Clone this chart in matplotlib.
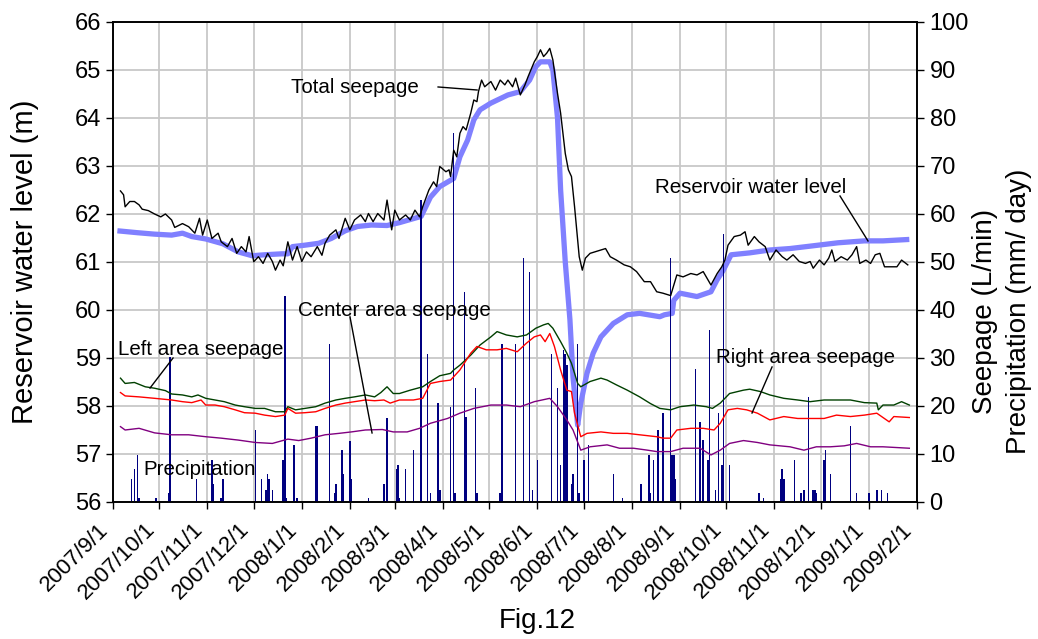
import numpy as np
import pandas as pd
import matplotlib
matplotlib.use("Agg")
import matplotlib.pyplot as plt

plt.rcParams["font.family"] = ["Liberation Sans", "DejaVu Sans"]

start = pd.Timestamp("2007-09-01")
end = pd.Timestamp("2009-02-01")

# reservoir water level (m), day offsets from 2007/9/1
wl_day = [3, 16, 27, 38, 45, 51, 60, 71, 81, 90, 98, 109, 113, 116, 124, 133, 141, 150, 158, 167,
          177, 185, 199, 205, 211, 220, 224, 229, 233, 237, 244, 255, 263, 269, 273, 276, 282, 284, 287, 289,
          292, 295, 297, 300, 302, 306, 310, 315, 323, 332, 340, 353, 356, 361, 362, 366, 377, 386, 390, 394,
          399, 411, 424, 437, 450, 468, 485, 497, 514]
wl_val = [61.65, 61.61, 61.58, 61.56, 61.60, 61.53, 61.48, 61.38, 61.21, 61.13, 61.15, 61.17, 61.17, 61.32, 61.35, 61.39, 61.49, 61.65, 61.74, 61.77,
          61.76, 61.82, 61.95, 62.35, 62.57, 62.74, 63.19, 63.54, 63.96, 64.17, 64.31, 64.48, 64.55, 64.79, 65.07, 65.17, 65.17, 65.0, 64.0, 62.5,
          61.0, 59.8, 58.6, 57.6, 58.06, 58.68, 59.1, 59.44, 59.72, 59.90, 59.93, 59.86, 59.90, 59.93, 60.2, 60.35, 60.28, 60.38, 60.63, 60.83,
          61.15, 61.19, 61.25, 61.28, 61.33, 61.40, 61.44, 61.44, 61.47]

# total seepage (L/min)
ts_day = [5, 7, 8, 11, 14, 17, 19, 23, 27, 31, 34, 38, 40, 45, 49, 53, 56, 58, 61, 64,
          68, 70, 74, 77, 80, 83, 86, 88, 91, 94, 97, 100, 103, 105, 108, 110, 113, 116, 119, 122,
          125, 128, 132, 135, 137, 140, 144, 146, 150, 153, 156, 160, 163, 165, 168, 171, 175, 177, 180, 182,
          185, 189, 192, 195, 198, 200, 204, 207, 209, 211, 215, 217, 218, 220, 222, 224, 226, 228, 231, 233,
          235, 236, 238, 240, 244, 247, 250, 253, 255, 258, 260, 263, 266, 268, 272, 274, 276, 278, 280, 282,
          284, 287, 289, 290, 292, 294, 296, 298, 301, 303, 305, 308, 311, 315, 318, 321, 325, 330, 334, 338,
          343, 347, 351, 355, 360, 364, 368, 373, 377, 381, 386, 390, 393, 395, 397, 401, 405, 408, 410, 414,
          417, 421, 424, 428, 432, 435, 439, 443, 447, 450, 452, 456, 459, 462, 464, 466, 470, 474, 477, 480,
          482, 486, 489, 492, 495, 498, 501, 506, 509, 513]
ts_val = [64.8, 64.0, 61.5, 62.6, 62.6, 61.9, 61.0, 60.7, 60.0, 59.4, 60.0, 58.75, 57.2, 58.0, 57.35, 56.0, 59.1, 55.6, 58.75, 54.9,
          56.0, 54.2, 53.2, 54.9, 51.8, 53.2, 52.1, 55.3, 50.05, 51.1, 49.7, 51.8, 50.1, 48.3, 50.4, 49.2, 54.2, 50.4, 53.2, 50.1,
          52.1, 51.1, 53.2, 51.4, 53.9, 55.6, 56.7, 54.9, 59.1, 56.7, 58.75, 59.8, 58.4, 60.1, 58.4, 60.1, 58.75, 62.9, 56.7, 60.8,
          58.75, 59.8, 58.75, 60.8, 59.4, 61.5, 65.0, 66.7, 65.7, 69.9, 68.8, 69.2, 67.8, 73.3, 71.9, 76.8, 78.2, 77.5, 81.0, 83.75,
          83.4, 85.5, 87.9, 86.5, 87.6, 85.8, 87.9, 86.9, 87.9, 86.5, 88.3, 84.8, 86.9, 88.6, 91.7, 92.8, 94.2, 92.8, 93.5, 94.5,
          92.1, 85.1, 81.0, 78.2, 72.6, 69.2, 67.8, 61.5, 51.1, 48.3, 50.8, 51.8, 52.1, 52.5, 52.8, 51.1, 50.4, 49.4, 49.0, 48.0,
          45.9, 45.9, 43.8, 43.5, 43.0, 47.3, 46.9, 47.6, 47.3, 48.0, 45.2, 47.6, 49.0, 50.4, 53.5, 55.3, 55.6, 56.3, 53.5, 55.3,
          54.2, 53.2, 50.4, 52.5, 51.1, 50.4, 51.5, 50.1, 49.7, 50.1, 48.7, 50.4, 49.4, 50.8, 52.5, 50.1, 51.1, 50.4, 51.5, 53.2,
          49.7, 50.4, 49.7, 51.5, 51.8, 49.0, 49.0, 49.0, 50.4, 49.4]

# left area seepage (L/min)
la_day = [5, 8, 14, 21, 27, 34, 38, 45, 51, 55, 60, 66, 72, 79, 85, 92, 98, 105, 111, 113,
          118, 124, 131, 137, 144, 150, 156, 163, 169, 173, 177, 179, 181, 185, 192, 200, 205, 211, 218, 220,
          224, 231, 237, 244, 248, 254, 261, 267, 273, 278, 281, 284, 289, 293, 296, 300, 302, 308, 315, 319,
          325, 332, 340, 347, 353, 360, 366, 375, 383, 387, 392, 398, 407, 411, 418, 424, 433, 442, 450, 459,
          467, 476, 485, 493, 494, 497, 504, 509, 514]
la_val = [25.8, 24.7, 24.9, 24.0, 23.7, 23.2, 22.5, 22.3, 21.9, 22.3, 21.6, 21.25, 20.9, 20.2, 19.85, 19.5, 19.5, 18.8, 18.8, 19.85,
          19.2, 19.5, 19.85, 20.6, 21.25, 21.6, 21.9, 22.3, 21.9, 22.8, 24.0, 23.3, 22.6, 22.6, 23.3, 24.0, 25.1, 26.3, 26.8, 27.5,
          28.5, 30.6, 32.7, 34.4, 35.5, 34.8, 34.4, 34.8, 36.2, 36.9, 37.2, 36.2, 33.4, 31.0, 28.9, 24.7, 24.0, 25.1, 25.8, 25.4,
          24.4, 23.3, 21.9, 20.5, 19.5, 19.2, 19.85, 20.2, 19.85, 19.5, 20.6, 22.6, 23.3, 23.5, 23.0, 22.3, 21.6, 21.25, 20.9, 21.25,
          21.25, 21.25, 20.7, 20.6, 19.2, 20.2, 20.2, 20.9, 20.2]

# center area seepage (L/min)
ca_day = [5, 8, 17, 27, 38, 45, 51, 57, 60, 66, 72, 79, 85, 92, 98, 105, 111, 113, 118, 124,
          131, 137, 144, 150, 156, 163, 169, 175, 179, 185, 194, 200, 205, 211, 218, 224, 231, 235, 241, 248,
          254, 261, 267, 272, 276, 279, 282, 285, 289, 293, 296, 298, 302, 306, 315, 323, 332, 340, 351, 355,
          360, 364, 373, 381, 388, 392, 397, 403, 409, 416, 424, 433, 442, 450, 459, 467, 476, 485, 493, 501,
          504, 514]
ca_val = [22.8, 22.1, 21.9, 21.6, 21.25, 20.9, 20.7, 21.25, 20.2, 20.2, 19.85, 19.2, 18.6, 18.5, 18.1, 17.8, 18.1, 19.5, 18.5, 18.6,
          18.8, 19.5, 20.2, 20.6, 20.9, 21.25, 21.1, 21.25, 20.6, 21.25, 21.25, 21.6, 24.7, 25.1, 25.4, 27.5, 31.0, 32.4, 31.7, 31.7,
          32.0, 31.3, 33.1, 34.4, 34.8, 33.4, 35.1, 32.4, 27.5, 23.3, 23.0, 18.5, 13.6, 14.3, 14.6, 14.3, 14.3, 14.0, 13.6, 13.3,
          13.3, 15.0, 15.35, 15.35, 15.0, 16.4, 19.2, 19.5, 19.2, 18.5, 17.1, 17.8, 17.4, 17.4, 17.4, 18.1, 17.8, 18.1, 18.5, 16.7,
          17.8, 17.6]

# right area seepage (L/min)
ra_day = [5, 8, 17, 27, 38, 49, 60, 70, 81, 92, 103, 113, 120, 128, 137, 146, 154, 163, 174, 181,
          190, 198, 205, 216, 224, 233, 244, 254, 263, 272, 282, 287, 293, 297, 302, 308, 319, 327, 336, 345,
          351, 360, 368, 379, 386, 392, 398, 407, 416, 424, 437, 446, 454, 463, 472, 480, 489, 497, 514]
ra_val = [15.7, 15.0, 15.35, 14.4, 14.0, 14.0, 13.6, 13.3, 12.9, 12.4, 12.2, 13.1, 12.8, 13.3, 14.0, 14.3, 14.6, 15.0, 15.1, 14.6,
          14.6, 15.35, 16.4, 17.4, 18.5, 19.5, 20.2, 20.2, 19.85, 20.9, 21.6, 19.85, 17.1, 15.0, 10.8, 11.5, 11.9, 11.2, 11.2, 10.8,
          10.5, 10.5, 11.2, 11.2, 9.8, 10.8, 12.2, 12.8, 12.4, 11.9, 11.5, 10.8, 11.5, 11.5, 11.7, 12.2, 11.5, 11.5, 11.2]

# precipitation (mm/day)
pr_day = [12, 14, 16, 17, 28, 36, 37, 54, 64, 65, 70, 71, 92, 96, 99, 100, 101, 103, 110, 111,
          112, 117, 119, 131, 132, 140, 143, 144, 148, 149, 153, 154, 165, 175, 177, 183, 184, 185, 189, 194,
          199, 203, 205, 210, 211, 218, 220, 221, 227, 228, 234, 235, 250, 251, 260, 265, 269, 271, 274, 283,
          287, 289, 291, 292, 293, 296, 297, 300, 301, 304, 307, 323, 329, 341, 346, 347, 349, 352, 355, 360,
          361, 362, 363, 376, 379, 381, 384, 385, 389, 391, 393, 394, 398, 417, 420, 431, 432, 433, 440, 444,
          446, 449, 452, 453, 454, 459, 460, 463, 476, 480, 488, 493, 496, 500]
pr_val = [4.7, 6.8, 9.8, 0.8, 0.8, 1.8, 30.3, 4.7, 8.75, 3.75, 0.8, 4.7, 14.9, 4.7, 2.6, 5.8, 4.7, 2.6, 8.75, 42.9,
          0.8, 11.9, 0.8, 15.8, 15.8, 32.9, 1.8, 3.75, 10.8, 5.8, 12.7, 4.7, 0.8, 3.75, 17.4, 6.8, 7.7, 0.8, 6.8, 10.8,
          62.9, 30.8, 1.8, 20.7, 2.6, 19.7, 76.8, 1.8, 43.7, 17.8, 23.8, 1.8, 1.8, 32.9, 32.9, 50.9, 48.0, 2.6, 8.75, 30.8,
          23.8, 7.7, 31.7, 30.8, 28.5, 3.75, 5.8, 32.9, 1.8, 8.75, 11.9, 5.8, 0.8, 3.75, 9.8, 1.8, 8.75, 14.9, 18.6, 50.9,
          9.8, 9.8, 4.7, 27.8, 16.7, 12.9, 8.75, 35.8, 2.6, 18.6, 7.7, 55.8, 7.7, 1.8, 0.8, 4.7, 6.8, 4.7, 8.75, 1.8,
          2.6, 21.9, 2.6, 2.6, 1.8, 8.75, 10.8, 5.8, 15.8, 1.8, 1.8, 2.6, 2.6, 1.8]


def dates(days):
    return start + pd.to_timedelta(days, unit="D")


fig = plt.figure(figsize=(10.38, 6.39), dpi=100)
ax1 = fig.add_axes([0.1086, 0.2144, 0.7749, 0.7512])
ax2 = ax1.twinx()

ax1.grid(True, color="#c8c8c8", lw=1.3)
ax1.set_axisbelow(True)
ax1.plot(dates(wl_day), wl_val, color="#8080ff", lw=3.8, solid_capstyle="butt")

ax2.bar(dates(pr_day), pr_val, width=1.0, color="#000080", linewidth=0)
ax2.plot(dates(la_day), la_val, color="#004000", lw=1.0)
ax2.plot(dates(ca_day), ca_val, color="#ff0000", lw=1.0)
ax2.plot(dates(ra_day), ra_val, color="#800080", lw=1.0)
ax2.plot(dates(ts_day), ts_val, color="black", lw=1.0)

ax1.set_xlim(start, end)
ax1.set_ylim(56, 66)
ax2.set_ylim(0, 100)
ax1.set_yticks(np.arange(56, 67, 1))
ax2.set_yticks(np.arange(0, 101, 10))

months = pd.date_range(start, end, freq="MS")
ax1.set_xticks(months)
ax1.set_xticklabels([f"{d.year}/{d.month}/{d.day}" for d in months], rotation=45,
                    ha="right", va="bottom", rotation_mode="anchor", fontsize=16)
ax1.tick_params(axis="x", direction="out", length=5, width=1, pad=18)
ax1.tick_params(axis="y", direction="out", length=5, width=1, labelsize=17, pad=3)
ax2.tick_params(axis="y", direction="out", length=5, width=1, labelsize=17, pad=4)
for ax in (ax1, ax2):
    for s in ax.spines.values():
        s.set_linewidth(1.2)

ta = ax2.transAxes
notes = [
    ("Total seepage", 0.2217, 0.8625, (0.4045, 0.4530), (0.8646, 0.8583)),
    ("Reservoir water level", 0.6742, 0.6542, (0.9042, 0.9390), (0.6375, 0.5438)),
    ("Center area seepage", 0.2304, 0.3979, (0.2950, 0.3224), (0.3854, 0.1438)),
    ("Left area seepage", 0.0066, 0.3167, (0.0750, 0.0464), (0.3000, 0.2375)),
    ("Right area seepage", 0.7500, 0.3000, (0.8197, 0.7948), (0.2813, 0.1854)),
    ("Precipitation", 0.0377, 0.0667, None, None),
]
for label, tx, ty, lx, ly in notes:
    ax2.text(tx, ty, label, transform=ta, fontsize=14.8, ha="left", va="center")
    if lx is not None:
        ax2.plot(lx, ly, transform=ta, color="black", lw=1.0)

fig.text(25 / 1038, 1 - 262 / 639, "Reservoir water level (m)", rotation=90,
         ha="center", va="center", fontsize=21)
fig.text(985 / 1038, 1 - 311 / 639, "Seepage (L/min)", rotation=90,
         ha="center", va="center", fontsize=20)
fig.text(1019 / 1038, 1 - 311 / 639, "Precipitation (mm/ day)", rotation=90,
         ha="center", va="center", fontsize=20)
fig.text(537 / 1038, 1 - 621 / 639, "Fig.12", ha="center", va="center", fontsize=20)

fig.savefig("out.png", dpi=100)
